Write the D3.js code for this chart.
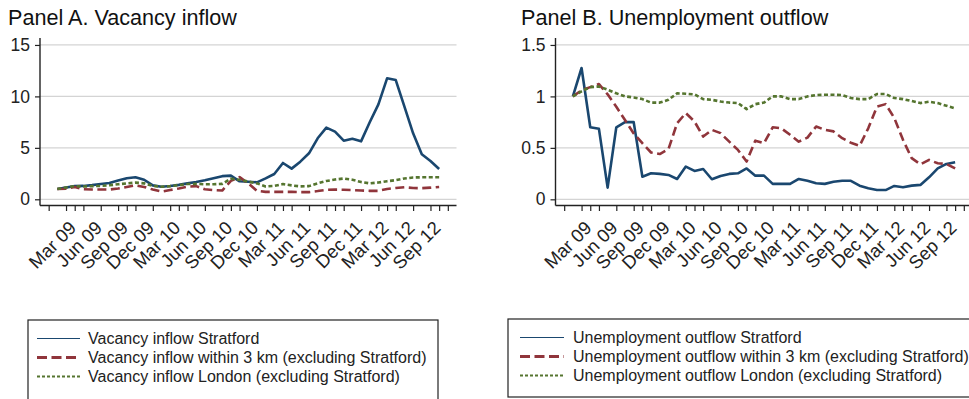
<!DOCTYPE html>
<html>
<head>
<meta charset="utf-8">
<script src="https://cdn.jsdelivr.net/npm/d3@7"></script>
<style>
  html, body { margin: 0; padding: 0; background: #fff; }
  svg { display: block; font-family: "Liberation Sans", Arial, sans-serif; }
</style>
</head>
<body>
<svg id="chart" width="969" height="399"></svg>
<script>
// Monthly series, Jan 2009 .. Sep 2012 (index = months since Jan 2009), Jan 2009 = 1
const monthIndex = d3.range(0, 45);

const vacancyStratford = [1.0, 1.15, 1.28, 1.3, 1.38, 1.48, 1.58, 1.82, 2.05, 2.15, 1.9, 1.35,
  1.22, 1.3, 1.4, 1.55, 1.68, 1.85, 2.05, 2.25, 2.3, 1.75, 1.7, 1.65,
  2.04, 2.46, 3.53, 2.98, 3.66, 4.47, 5.93, 6.96, 6.57, 5.7, 5.89, 5.63,
  7.48, 9.23, 11.76, 11.59, 9.0, 6.41, 4.37, 3.72, 2.94];
const vacancyWithin3km = [1.0, 1.02, 1.2, 0.98, 0.95, 0.95, 0.95, 1.05, 1.2, 1.35, 1.2, 0.95,
  0.75, 0.9, 1.05, 1.22, 1.28, 0.97, 0.9, 0.85, 1.8, 2.15, 1.55, 0.82,
  0.72, 0.72, 0.72, 0.72, 0.7, 0.7, 0.8, 0.92, 0.94, 0.93, 0.9, 0.85,
  0.82, 0.82, 1.0, 1.1, 1.17, 1.1, 1.08, 1.13, 1.2];
const vacancyLondon = [1.0, 1.15, 1.28, 1.24, 1.28, 1.3, 1.36, 1.46, 1.55, 1.62, 1.55, 1.3,
  1.22, 1.28, 1.38, 1.48, 1.5, 1.46, 1.46, 1.5, 2.0, 1.9, 1.72, 1.55,
  1.25, 1.3, 1.48, 1.35, 1.26, 1.28, 1.55, 1.78, 1.92, 2.02, 1.9, 1.68,
  1.55, 1.63, 1.76, 1.86, 2.02, 2.12, 2.14, 2.14, 2.14];

const unempStratford = [1.0, 1.276, 0.70, 0.685, 0.114, 0.70, 0.75, 0.75, 0.22, 0.253, 0.247, 0.237,
  0.198, 0.318, 0.276, 0.295, 0.195, 0.227, 0.247, 0.253, 0.30, 0.23, 0.23, 0.15,
  0.15, 0.15, 0.198, 0.18, 0.156, 0.15, 0.17, 0.18, 0.18, 0.133, 0.107, 0.09,
  0.09, 0.13, 0.117, 0.133, 0.14, 0.214, 0.30, 0.344, 0.36];
const unempWithin3km = [1.0, 1.06, 1.09, 1.12, 1.02, 0.90, 0.77, 0.64, 0.545, 0.455, 0.44, 0.487,
  0.74, 0.838, 0.756, 0.61, 0.675, 0.643, 0.56, 0.48, 0.367, 0.57, 0.545, 0.70,
  0.69, 0.627, 0.56, 0.60, 0.708, 0.675, 0.66, 0.594, 0.55, 0.52, 0.69, 0.90,
  0.925, 0.79, 0.578, 0.40, 0.34, 0.383, 0.35, 0.344, 0.30];
const unempLondon = [1.0, 1.05, 1.09, 1.097, 1.065, 1.03, 1.0, 0.99, 0.974, 0.94, 0.94, 0.967,
  1.03, 1.026, 1.02, 0.974, 0.967, 0.95, 0.94, 0.935, 0.877, 0.925, 0.94, 1.0,
  1.0, 0.974, 0.974, 1.0, 1.013, 1.016, 1.016, 1.013, 0.984, 0.974, 0.974, 1.023,
  1.023, 0.984, 0.974, 0.955, 0.935, 0.948, 0.935, 0.909, 0.883];

// Axis ticks (month index); labels every quarter from Mar 09
const labelTicks = [2, 5, 8, 11, 14, 17, 20, 23, 26, 29, 32, 35, 38, 41, 44];
const tickLabels = ["Mar 09", "Jun 09", "Sep 09", "Dec 09", "Mar 10", "Jun 10", "Sep 10", "Dec 10",
  "Mar 11", "Jun 11", "Sep 11", "Dec 11", "Mar 12", "Jun 12", "Sep 12"];
const plainTicks = [-1, 1, 3, 7, 9, 13, 15, 19, 21, 25, 27, 31, 33, 37, 39, 43, 45];

const yTicksA = [0, 5, 10, 15];
const yTickLabelsA = ["0", "5", "10", "15"];
const yTicksB = [0, 0.5, 1, 1.5];
const yTickLabelsB = ["0", "0.5", "1", "1.5"];

const seriesNamesA = ["Vacancy inflow Stratford",
  "Vacancy inflow within 3 km (excluding Stratford)",
  "Vacancy inflow London (excluding Stratford)"];
const seriesNamesB = ["Unemployment outflow Stratford",
  "Unemployment outflow within 3 km (excluding Stratford)",
  "Unemployment outflow London (excluding Stratford)"];

const colors = ["#1a476f", "#90353b", "#55752f"];
const dashes = [null, "9,4.5", "4,2.5"];
const legendDashes = [null, "10,4.5", "3,2"];
const legendWidths = [1.2, 3, 2.2];

const svg = d3.select("#chart");

function panel(opts) {
  const g = svg.append("g");
  const x = d3.scaleLinear().domain([-2, 46]).range([opts.left, opts.right]);
  const y = d3.scaleLinear().domain(opts.yDomain).range([opts.bottom, opts.top]);

  // title
  g.append("text").attr("x", opts.titleX).attr("y", 24.5)
    .attr("font-size", 21.6).attr("fill", "#111").text(opts.title);

  // gridlines
  g.selectAll("line.grid").data(opts.yTicks).join("line")
    .attr("x1", opts.left).attr("x2", opts.right)
    .attr("y1", d => y(d)).attr("y2", d => y(d))
    .attr("stroke", "#d4d4d4").attr("stroke-width", 1.2);

  // y axis
  const yAxis = d3.axisLeft(y).tickValues(opts.yTicks)
    .tickFormat((d, i) => opts.yLabels[i]).tickSize(5).tickPadding(5);
  const ya = g.append("g").attr("transform", `translate(${opts.left},0)`).call(yAxis);
  ya.select(".domain").remove();
  ya.selectAll(".tick line").attr("stroke", "#222").attr("stroke-width", 1.2);
  ya.selectAll(".tick text").attr("font-size", 17.5).attr("fill", "#222")
    .attr("font-family", "Liberation Sans, Arial, sans-serif");
  g.append("line").attr("x1", opts.left).attr("x2", opts.left)
    .attr("y1", opts.top).attr("y2", opts.axisY)
    .attr("stroke", "#222").attr("stroke-width", 1.4);

  // x axis
  const xa = g.append("g").attr("transform", `translate(0,${opts.axisY})`);
  xa.call(d3.axisBottom(x).tickValues(plainTicks.concat(labelTicks)).tickFormat("").tickSize(5.5));
  xa.select(".domain").remove();
  xa.selectAll(".tick line").attr("stroke", "#222").attr("stroke-width", 1.2);
  g.append("line").attr("x1", opts.left).attr("x2", opts.right)
    .attr("y1", opts.axisY).attr("y2", opts.axisY)
    .attr("stroke", "#222").attr("stroke-width", 1.4);

  g.selectAll("text.xlab").data(labelTicks).join("text")
    .attr("class", "xlab")
    .attr("transform", d => `translate(${x(d) - 2},${opts.axisY + 19}) rotate(-45)`)
    .attr("text-anchor", "end").attr("dy", "0.35em")
    .attr("font-size", 18.5).attr("fill", "#222")
    .text((d, i) => tickLabels[i]);

  // series
  const line = d3.line().x((d, i) => x(monthIndex[i])).y(d => y(d));
  opts.series.forEach((s, k) => {
    g.append("path").datum(s).attr("d", line)
      .attr("fill", "none").attr("stroke", colors[k]).attr("stroke-width", 2.6)
      .attr("stroke-linejoin", "round")
      .attr("stroke-dasharray", dashes[k]);
  });

  // legend
  const lg = g.append("g");
  lg.append("rect").attr("x", opts.legX).attr("y", opts.legY)
    .attr("width", opts.legW).attr("height", opts.legH)
    .attr("fill", "#fff").attr("stroke", "#222").attr("stroke-width", 1.2);
  opts.names.forEach((name, k) => {
    const yy = opts.legY + 18.5 + k * 19;
    lg.append("line").attr("x1", opts.legX + opts.keyX0).attr("x2", opts.legX + opts.keyX1)
      .attr("y1", yy).attr("y2", yy)
      .attr("stroke", colors[k]).attr("stroke-width", legendWidths[k])
      .attr("stroke-dasharray", legendDashes[k]);
    lg.append("text").attr("x", opts.legX + opts.textX).attr("y", yy).attr("dy", "0.35em")
      .attr("font-size", 16).attr("fill", "#222").text(name);
  });
}

panel({
  title: "Panel A. Vacancy inflow", titleX: 8,
  left: 40, right: 456.5, top: 38, bottom: 199.3 + 0.6 * 10.29, axisY: 205.5,
  yDomain: [-0.6, (199.3 - 38) / 10.29],
  yTicks: yTicksA, yLabels: yTickLabelsA,
  series: [vacancyStratford, vacancyWithin3km, vacancyLondon],
  names: seriesNamesA,
  legX: 28, legY: 320, legW: 410, legH: 82, keyX0: 9, keyX1: 52, textX: 60
});

panel({
  title: "Panel B. Unemployment outflow", titleX: 521,
  left: 555.5, right: 972.5, top: 38, bottom: 205.5, axisY: 205.5,
  yDomain: [-0.06, (199.3 - 38) / 102.9],
  yTicks: yTicksB, yLabels: yTickLabelsB,
  series: [unempStratford, unempWithin3km, unempLondon],
  names: seriesNamesB,
  legX: 508, legY: 319, legW: 470, legH: 78, keyX0: 12, keyX1: 56, textX: 65
});
</script>
</body>
</html>
